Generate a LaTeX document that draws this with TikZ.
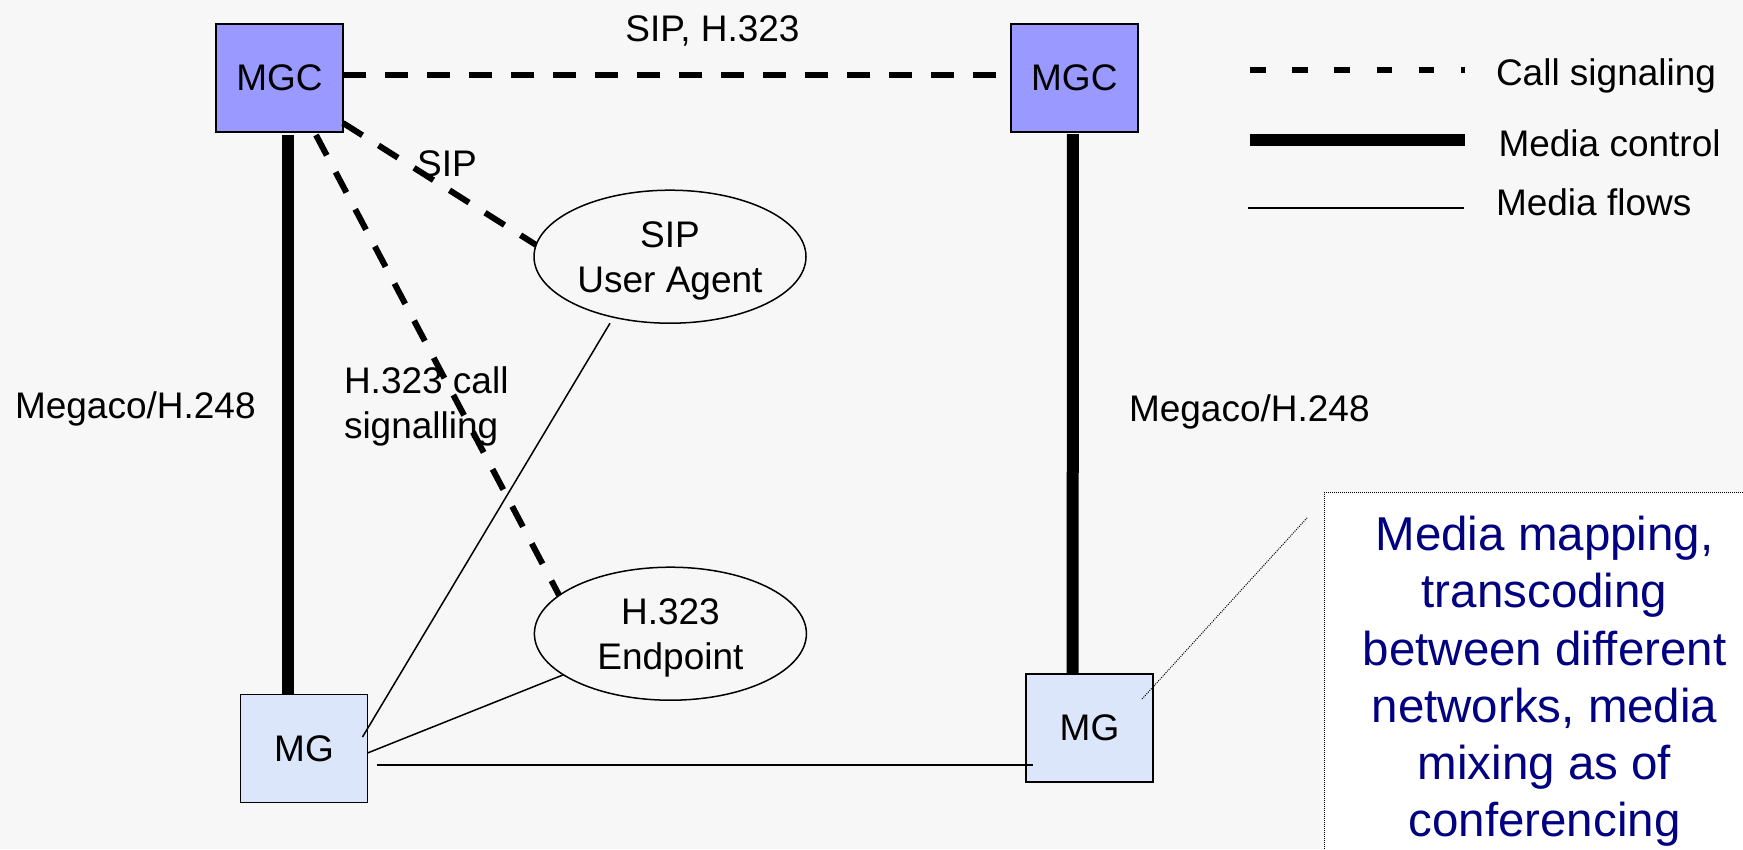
\documentclass[tikz,border=0pt]{standalone}
\usepackage{fontspec}
\setmainfont{Liberation Sans}
\usetikzlibrary{shapes.geometric,calc}
\definecolor{bgcol}{RGB}{247,247,247}
\definecolor{mgcfill}{RGB}{153,153,255}
\definecolor{mgfill}{RGB}{220,230,250}
\definecolor{notecol}{RGB}{0,0,128}
\tikzset{
  lbl/.style={font=\fontsize{37}{45}\selectfont, inner sep=0pt, outer sep=0pt},
  ctrlbox/.style={lbl, draw, line width=1.6pt, minimum width=127pt, minimum height=108pt},
  mgcbox/.style={ctrlbox, fill=mgcfill},
  mgbox/.style={ctrlbox, fill=mgfill},
  endpoint/.style={lbl, ellipse, draw, line width=1.5pt, minimum width=272pt,
    minimum height=133pt, align=center, text depth=0pt},
  signalling/.style={line width=6pt, dash pattern=on 23pt off 19pt},
  mediactrl/.style={line width=12pt},
  flow/.style={line width=1.5pt},
  notebox/.style={draw, fill=white, line width=1pt, dash pattern=on 1pt off 1pt,
    minimum width=441pt, minimum height=377pt, inner sep=0pt, align=center,
    text=notecol, font=\fontsize{47.5}{57.2}\selectfont},
  callout/.style={line width=1pt, dash pattern=on 1pt off 1.2pt}
}
\begin{document}
\begin{tikzpicture}[x=1pt, y=-1pt]
\useasboundingbox (0,0) rectangle (1743,849);
\clip (0,0) rectangle (1743,849);
\fill[bgcol] (0,0) rectangle (1743,849);

% gateway controllers and gateways
\node[mgcbox] (mgc1) at (279.5,78) {MGC};
\node[mgcbox] (mgc2) at (1074.3,78) {MGC};
\node[mgbox] (mg1) at (304,748.5) {MG};
\node[mgbox] (mg2) at (1089.5,728) {MG};

% terminals
\node[endpoint] (sipua) at (670,256.7) {SIP\\User Agent};
\node[endpoint] (h323) at (670.4,633.7) {H.323\\Endpoint};

% annotation
\node[notebox] (note) at (1544.5,681.4)
  {Media mapping,\\transcoding\\between different\\networks, media\\mixing as of\\conferencing};

% labels
\node[lbl, anchor=base] (tsiph) at (712.5,41) {SIP, H.323};
\node[lbl, anchor=base] (tsip) at (447,176) {SIP};
\node[lbl, anchor=base west] (tmeg1) at (15,418) {Megaco/H.248};
\node[lbl, anchor=base west] (tmeg2) at (1129,421.7) {Megaco/H.248};
\node[lbl, anchor=north west, align=left] (th323) at (344,366.5) {H.323 call\\signalling};

% call signalling
\draw[signalling] ([yshift=2.7pt]mgc1.east) -- ([yshift=2.7pt]mgc2.west);
\draw[signalling] ([yshift=9pt]mgc1.south east) -- (sipua.175);
\draw[signalling] ([xshift=36.5pt,yshift=-3pt]mgc1.south) -- (h323.161);

% media control
\draw[mediactrl] ([xshift=8pt,yshift=-3pt]mgc1.south) -- ([xshift=-16.5pt]mg1.north);
\draw[mediactrl] ([xshift=-1.5pt,yshift=-2pt]mgc2.south) -- ([xshift=-16.8pt]mg2.north);

% media flows
\draw[flow] ([xshift=-60pt]sipua.south) -- ([xshift=-5pt,yshift=11.5pt]mg1.east);
\draw[flow] (h323.201) -- ([yshift=-4.5pt]mg1.east);
\coordinate (f1) at ([xshift=9pt,yshift=-16.5pt]mg1.east);
\coordinate (f2) at (f1 -| mg2.west);
\draw[flow] (f1) -- ([xshift=7pt]f2);

% callout to the gateway
\draw[callout] ([xshift=-11pt,yshift=-25pt]mg2.north east) -- ([xshift=-16pt,yshift=-25pt]note.north west);

% legend
\coordinate (ls1) at (1250,70);   \coordinate (ls2) at (1465,70);
\coordinate (lc1) at (1249.5,139.5); \coordinate (lc2) at (1465,139.5);
\coordinate (lf1) at (1248,208);  \coordinate (lf2) at (1464,208);
\draw[line width=5.3pt, dash pattern=on 15.6pt off 26.6pt] (ls1) -- (ls2);
\draw[mediactrl] (lc1) -- (lc2);
\draw[flow] (lf1) -- (lf2);
\node[lbl, anchor=base west] (tcs) at (1496,85) {Call signaling};
\node[lbl, anchor=base west] (tmc) at (1498.5,156) {Media control};
\node[lbl, anchor=base west] (tmf) at (1496,215) {Media flows};
\end{tikzpicture}
\end{document}
